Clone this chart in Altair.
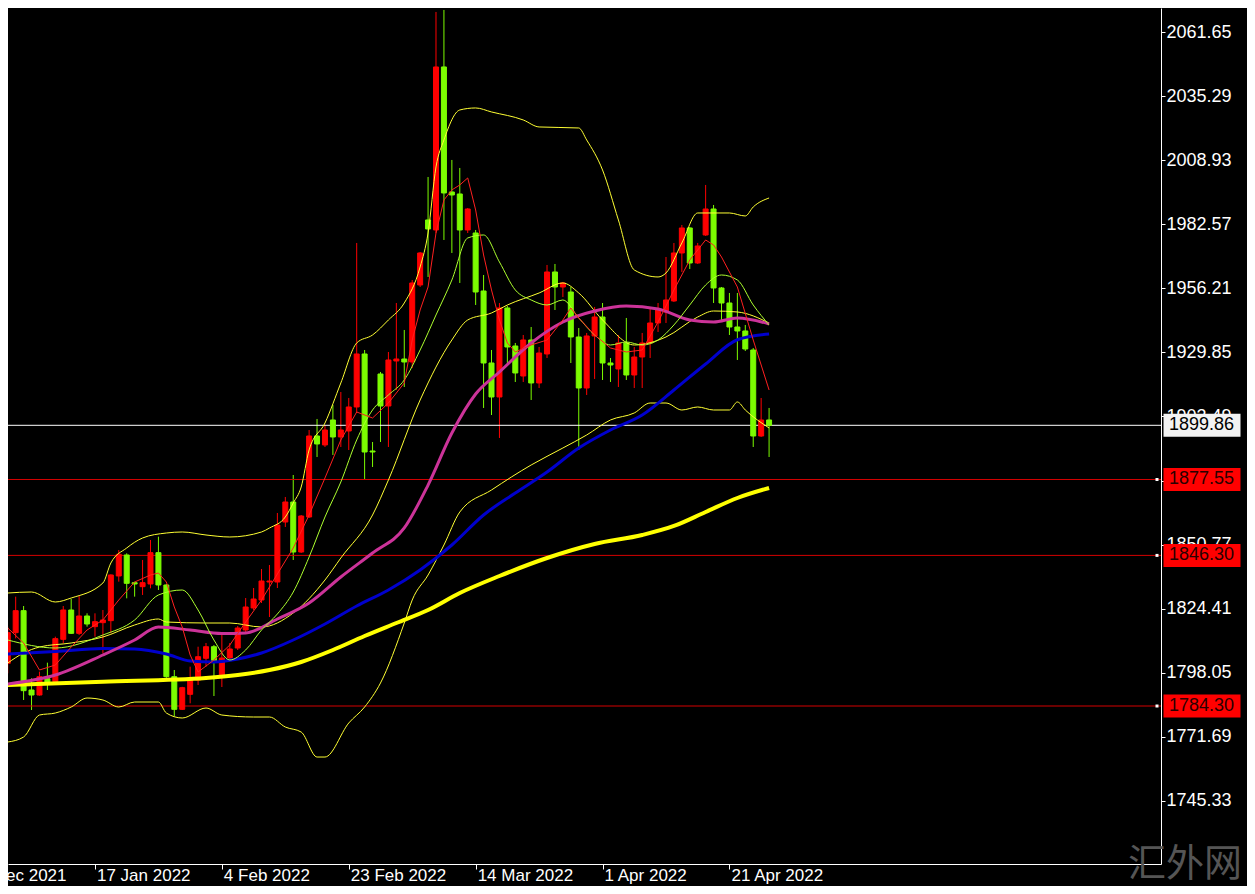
import altair as alt
import pandas as pd

# ---------------- candles (bar number, OHLC) ----------------
opens = [1801.87,1814.50,1823.55,1790.89,1788.83,1795.56,1794.32,1811.75,1823.83,1814.22,
         1821.36,1816.97,1818.61,1819.44,1837.83,1846.47,1835.08,1833.43,1834.53,1847.43,
         1834.12,1796.38,1782.93,1789.11,1795.00,1803.94,1808.71,1796.24,1804.07,1808.18,
         1815.59,1824.65,1827.94,1835.35,1835.35,1860.05,1868.29,1847.70,1862.11,1895.46,
         1891.76,1902.05,1895.05,1897.52,1907.40,1929.22,1889.28,1920.98,1907.81,1926.34,
         1927.16,1925.93,1957.63,1984.39,1980.27,2047.38,1995.91,1995.09,1980.27,1979.03,
         1955.15,1925.51,1911.52,1948.16,1932.51,1920.16,1934.98,1917.28,1929.22,1962.98,
         1956.80,1954.74,1936.22,1915.22,1936.63,1944.45,1925.51,1923.04,1933.75,1920.57,
         1927.98,1933.75,1941.98,1946.51,1951.04,1970.80,1981.09,1966.68,1978.21,1988.91,
         1956.39,1950.21,1940.33,1938.69,1930.86,1895.46,1902.05]
highs = [1816.97,1829.32,1825.47,1795.70,1798.44,1802.14,1812.85,1825.47,1828.36,1829.59,
         1822.46,1822.46,1823.83,1838.51,1848.53,1847.16,1835.49,1844.41,1852.65,1854.02,
         1834.53,1799.13,1792.20,1800.50,1808.71,1810.24,1809.41,1813.94,1810.24,1817.24,
         1828.76,1832.88,1840.70,1842.35,1863.76,1870.35,1879.40,1862.93,1897.93,1902.46,
         1899.99,1908.22,1913.57,1911.10,1974.92,1930.86,1892.99,1921.81,1930.04,1950.21,
         1939.10,1959.68,1971.21,2002.09,2070.02,2070.84,2009.09,2005.79,1989.32,1980.27,
         1961.74,1930.86,1950.21,1949.00,1933.75,1937.04,1940.33,1932.10,1965.86,1966.27,
         1958.86,1956.80,1939.92,1937.87,1948.57,1950.21,1927.57,1937.04,1944.04,1932.10,
         1937.87,1948.16,1950.21,1969.15,1974.92,1982.33,1981.50,1974.92,1998.80,1990.56,
         1956.80,1954.33,1954.33,1941.16,1931.69,1911.10,1906.99]
lows = [1797.75,1812.16,1786.78,1782.66,1788.56,1790.89,1794.05,1810.11,1813.95,1813.54,
        1816.97,1812.85,1805.99,1814.22,1835.49,1828.63,1829.32,1830.01,1832.75,1832.06,
        1795.90,1779.92,1782.66,1785.41,1792.95,1800.48,1788.42,1792.12,1802.83,1807.36,
        1814.36,1823.82,1826.70,1820.94,1832.88,1858.00,1844.41,1847.29,1861.70,1886.81,
        1890.93,1887.64,1890.93,1889.69,1904.93,1877.34,1882.70,1892.99,1890.93,1914.40,
        1915.63,1923.45,1956.80,1960.92,1979.03,1976.15,1970.80,1958.45,1979.03,1949.39,
        1906.99,1904.10,1894.64,1925.51,1917.69,1917.69,1910.28,1915.22,1927.57,1947.33,
        1952.69,1925.51,1889.69,1912.34,1918.93,1918.51,1917.69,1915.63,1918.51,1915.22,
        1915.22,1927.57,1938.28,1941.98,1950.63,1962.98,1964.21,1966.27,1977.80,1950.21,
        1943.22,1937.04,1926.75,1930.45,1890.93,1895.05,1886.81]
closes = [1814.50,1823.55,1790.62,1788.83,1796.38,1793.64,1812.03,1823.83,1814.22,1821.36,
          1818.06,1819.03,1819.71,1838.24,1846.75,1834.81,1834.53,1835.08,1847.43,1834.12,
          1796.38,1782.93,1791.85,1795.28,1804.60,1808.71,1802.54,1804.07,1807.77,1816.41,
          1825.06,1828.35,1835.76,1835.76,1858.82,1868.29,1847.70,1862.52,1895.46,1892.17,
          1897.93,1895.05,1897.93,1907.40,1929.22,1888.87,1888.87,1907.81,1926.75,1927.16,
          1925.93,1958.45,1970.80,1980.68,2047.38,1995.50,1994.68,1980.27,1988.91,1954.74,
          1925.51,1911.52,1948.16,1932.10,1921.40,1934.98,1917.28,1929.63,1962.98,1956.80,
          1958.45,1936.22,1915.22,1936.63,1944.45,1925.51,1924.69,1933.75,1920.57,1927.98,
          1933.75,1941.98,1947.33,1951.45,1970.80,1981.09,1966.68,1973.68,1988.91,1956.39,
          1950.21,1940.33,1938.69,1931.28,1895.46,1902.05,1899.86]

# ---------------- indicator lines (bar number, value) ----------------
ma5_idx = [0,2,4,6,8,10,12,14,16,18,19,20,21,22,23,24,26,28,30,32,34,36,38,40,42,44,46,48,50,
           51,52,53,54,55,56,57,58,59,60,61,62,63,64,66,68,70,71,72,74,76,78,80,82,84,86,88,89,90,92,94,96]
ma5_val = [1816.41,1810.24,1799.12,1801.18,1808.59,1815.59,1819.71,1827.94,1835.35,1838.23,
           1839.06,1835.35,1825.06,1816.82,1805.30,1798.30,
           1803.24,1809.41,1818.88,1827.94,1838.64,1849.35,1862.93,1878.17,1893.81,1905.34,1902.87,1909.04,1917.28,
           1934.98,1947.33,1956.80,1979.03,1992.62,1996.74,1998.80,2001.68,1988.50,1969.98,1955.57,1943.22,1933.75,1930.04,
           1932.92,1934.98,1943.22,1948.16,1944.04,1937.04,1931.69,1930.04,1930.86,1942.39,1955.57,1967.92,1976.15,1974.09,
           1969.15,1956.80,1934.98,1914.40]

ma10_idx = [0,6,12,16,19,22,24,26,28,30,32,34,36,38,40,42,44,46,48,50,52,54,56,58,60,62,64,66,68,70,
            72,74,76,78,80,82,84,86,88,90,92,94,96]
ma10_val = [1811.47,1808.18,1813.53,1819.71,1830.00,1832.06,1823.82,1811.47,1803.24,1807.36,1815.59,1822.18,
            1831.23,1845.64,1862.11,1876.52,1893.81,1906.16,1912.34,1918.51,1930.86,1945.27,1959.68,1976.98,
            1978.21,1967.09,1955.57,1951.45,1949.39,1951.45,1944.04,1937.04,1932.92,1934.16,1932.92,1934.98,
            1941.16,1949.39,1957.63,1961.74,1959.68,1949.39,1941.16]

bbu_idx = [0,3,6,8,12,13,15,17,20,22,25,28,32,33,35,36,37,38,40,42,44,46,48,50,52,53,54,55,57,59,
           61,65,67,72,73,75,77,79,82,83,85,87,91,93,94,96]
bbu_val = [1830.82,1831.23,1827.12,1828.76,1834.94,1843.17,1849.35,1853.47,1855.52,1855.94,
           1854.70,1853.88,1855.94,1857.58,1862.11,1867.87,1874.46,1889.69,1900.81,1917.28,
           1933.75,1937.04,1943.22,1950.21,1965.04,1979.03,2006.21,2017.32,2029.67,2030.50,
           2028.85,2025.56,2022.68,2022.26,2017.32,2004.97,1984.39,1963.80,1960.92,1962.57,
           1974.92,1987.27,1987.27,1986.03,1989.74,1993.44]

bbm_idx = [0,2,4,8,12,16,19,20,25,28,32,36,40,42,46,48,52,56,58,61,63,67,70,72,75,79,83,87,89,92,96]
bbm_val = [1802.00,1806.12,1808.59,1810.24,1812.71,1817.65,1820.12,1818.88,1818.47,1818.47,
           1816.82,1822.59,1836.17,1845.23,1862.93,1877.34,1910.28,1934.98,1943.22,1946.10,
           1949.39,1954.33,1958.45,1954.33,1943.22,1932.92,1936.22,1944.45,1946.92,1946.51,1941.98]

bbl_idx = [0,2,4,6,8,10,12,14,16,19,20,22,25,27,31,33,35,37,39,40,43,45,47,50,51,53,55,57,61,66,
           70,73,76,79,81,83,85,87,89,91,92,93,96]
bbl_val = [1769.48,1771.54,1780.59,1781.41,1783.89,1787.59,1786.77,1783.89,1785.95,1785.95,
           1781.41,1779.36,1783.48,1780.59,1779.77,1779.77,1775.65,1773.59,1763.30,1763.30,
           1777.30,1783.89,1793.77,1818.47,1827.94,1838.23,1850.58,1864.17,1873.23,1883.52,
           1890.52,1895.87,1902.05,1904.93,1909.04,1909.04,1906.16,1907.40,1906.16,1906.16,
           1909.46,1906.16,1898.75]

mag_idx = [0,6,12,16,19,23,27,30,34,38,42,46,50,53,56,59,62,66,70,74,78,82,86,89,92,96]
mag_val = [1793.36,1797.06,1805.30,1811.47,1816.82,1815.59,1814.15,1814.36,1820.12,1826.70,
           1837.41,1847.29,1857.59,1875.26,1896.69,1912.75,1921.81,1933.75,1942.39,1946.92,
           1948.98,1947.75,1943.22,1942.39,1944.04,1941.57]

blue_idx = [0,6,12,16,20,23,26,29,32,36,40,44,48,52,56,60,64,68,72,76,80,84,88,92,96]
blue_val = [1805.71,1806.74,1807.98,1807.77,1805.71,1802.83,1802.42,1803.65,1806.12,1811.47,
            1818.06,1825.47,1832.06,1840.29,1850.58,1862.94,1871.98,1880.63,1890.51,1897.93,
            1904.10,1914.40,1925.11,1935.08,1937.45]

slow_idx = [0,12,25,29,33,37,41,45,49,53,57,62,68,74,80,84,88,92,96]
slow_val = [1792.95,1794.30,1795.83,1797.06,1799.12,1802.42,1807.36,1813.12,1818.47,1823.82,
            1830.82,1837.82,1845.23,1851.00,1854.70,1858.41,1864.17,1869.93,1874.05]

# ---------------- levels and axis labels ----------------
bid_price = [1899.86]
red_levels = [1877.55, 1846.30, 1784.30]
y_ticks = [2061.65, 2035.29, 2008.93, 1982.57, 1956.21, 1929.85, 1903.49,
           1877.13, 1850.77, 1824.41, 1798.05, 1771.69, 1745.33]
date_tick_idx = [-5, 11, 27, 43, 59, 75, 91]
date_labels = ["29 Dec 2021", "17 Jan 2022", "4 Feb 2022", "23 Feb 2022",
               "14 Mar 2022", "1 Apr 2022", "21 Apr 2022"]
watermark = "汇外网"

FONT = "Liberation Sans"
W, H = 1153, 856

candles = pd.DataFrame({"i": list(range(len(opens))), "open": opens, "high": highs,
                        "low": lows, "close": closes})

xs = alt.Scale(domain=[0.6625, 144.7875], nice=False, zero=False)
ys = alt.Scale(domain=[1719.26, 2071.65], nice=False, zero=False)

x_axis = alt.Axis(values=date_tick_idx, labels=False, orient="bottom", domainColor="#ffffff",
                  tickColor="#ffffff", tickSize=5, grid=False, title=None, domainWidth=1, zindex=0)
y_axis = alt.Axis(values=y_ticks, format=".2f", orient="right", domainColor="#ffffff",
                  tickColor="#ffffff", tickSize=4, labelPadding=1, labelColor="#ffffff",
                  labelFont=FONT, labelFontSize=18, labelAlign="left", labelBaseline="middle",
                  grid=False, title=None, labelOverlap=False, labelFlush=False, labelBound=False,
                  zindex=0)


def X(field="i:Q"):
    return alt.X(field, scale=xs, axis=x_axis)


def Y(field):
    return alt.Y(field, scale=ys, axis=y_axis)


up_col = alt.condition("datum.close >= datum.open", alt.value("#ff0000"), alt.value("#7cfc00"))

# watermark (behind everything)
wm = alt.Chart(pd.DataFrame({"t": [watermark]})).mark_text(
    font="Noto Sans CJK SC", fontSize=38, color="#555555", align="center", baseline="middle").encode(
    x=alt.value(W + 24), y=alt.value(H + 1), text="t:N")

# horizontal level lines
lv = pd.DataFrame({"p": red_levels})
bid = pd.DataFrame({"p": bid_price})
red_lines = alt.Chart(lv).mark_rule(color="#d40000", strokeWidth=1).encode(y=Y("p:Q"))
white_line = alt.Chart(bid).mark_rule(color="#ffffff", strokeWidth=1).encode(y=Y("p:Q"))

wicks = alt.Chart(candles).mark_rule(strokeWidth=1).encode(
    x=X(), y=Y("low:Q"), y2="high:Q", color=up_col)
bodies = alt.Chart(candles).mark_bar(width=5, strokeWidth=1, opacity=1).encode(
    x=X(), y=Y("open:Q"), y2="close:Q", color=up_col, stroke=up_col)


def line(idx, val, color, width, interp="monotone"):
    df = pd.DataFrame({"i": idx, "v": val})
    return alt.Chart(df).mark_line(color=color, strokeWidth=width, interpolate=interp).encode(
        x=X(), y=Y("v:Q"))


lines = [
    line(bbu_idx, bbu_val, "#ffff33", 1),
    line(bbm_idx, bbm_val, "#ffff33", 1),
    line(bbl_idx, bbl_val, "#ffff33", 1),
    line(slow_idx, slow_val, "#ffff00", 4),
    line(blue_idx, blue_val, "#0000cc", 3),
    line(mag_idx, mag_val, "#cc3399", 3),
    line(ma10_idx, ma10_val, "#adff2f", 1),
    line(ma5_idx, ma5_val, "#ff2020", 1, "linear"),
]

# date labels under the axis
dl = pd.DataFrame({"i": date_tick_idx, "t": date_labels})
date_text = alt.Chart(dl).mark_text(align="left", baseline="bottom", dx=2, color="#ffffff",
                                    font=FONT, fontSize=17).encode(
    x=X(), y=alt.value(H + 21), text="t:N")

# price boxes on the right axis
boxes_df = pd.DataFrame({"p": bid_price + red_levels,
                         "kind": ["bid"] + ["lvl"] * len(red_levels)})
boxes = alt.Chart(boxes_df).mark_tick(orient="horizontal", size=77, thickness=23,
                                      opacity=1).encode(
    x=alt.value(W + 41), y=Y("p:Q"),
    color=alt.condition("datum.kind == 'bid'", alt.value("#f2f2f2"), alt.value("#ff0000")))
box_text = alt.Chart(boxes_df).mark_text(align="left", baseline="middle", font=FONT,
                                         fontSize=18).encode(
    x=alt.value(W + 8), y=Y("p:Q"),
    text=alt.Text("p:Q", format=".2f"),
    color=alt.condition("datum.kind == 'bid'", alt.value("#000000"), alt.value("#2a0000")))
marks = alt.Chart(lv).mark_square(size=9, color="#ffffff", opacity=1).encode(
    x=alt.value(W - 4), y=Y("p:Q"))

chart = alt.layer(wm, wicks, red_lines, white_line, bodies, *lines, marks, boxes, box_text,
                  date_text).properties(
    width=W, height=H,
    background="#000000",
    padding={"left": 0, "top": 0, "right": 86, "bottom": 22},
    autosize=alt.AutoSizeParams(type="none"),
).configure_view(stroke=None)

chart.save("out.html", embed_options={"renderer": "svg", "actions": False})
